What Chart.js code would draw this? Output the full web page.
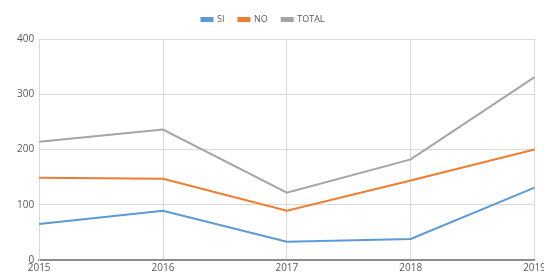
<!DOCTYPE html>
<html>
<head>
<meta charset="utf-8">
<script src="https://cdn.jsdelivr.net/npm/chart.js@4"></script>
<style>
  html, body { margin: 0; padding: 0; background: #fff; overflow: hidden; }
  #wrap { width: 548px; height: 276px; position: relative; }
</style>
</head>
<body>
<div id="wrap"><canvas id="chart1"></canvas></div>
<script>
// years on the x axis
const years = ["2015", "2016", "2017", "2018", "2019"];
// series
const siValues = [65, 89, 33, 38, 131];
const noValues = [149, 147, 89, 144, 200];
const totalValues = [214, 236, 122, 182, 331];
const yTicks = [0, 100, 200, 300, 400];

// nudge the legend a bit up and left, like the original sheet
const legendNudge = {
    id: "legendNudge",
    afterLayout: function (chart) {
        const lg = chart.legend;
        lg.left -= 17; lg.right -= 17;
        lg.top -= 5; lg.bottom -= 5;
    }
};

const ctx = document.getElementById("chart1").getContext("2d");
const lineChart = new Chart(ctx, {
    type: "line",
    data: {
        labels: years,
        datasets: [
            { label: "SI", data: siValues, borderColor: "#5B9BD5", backgroundColor: "#5B9BD5" },
            { label: "NO", data: noValues, borderColor: "#ED7D31", backgroundColor: "#ED7D31" },
            { label: "TOTAL", data: totalValues, borderColor: "#A5A5A5", backgroundColor: "#A5A5A5" }
        ]
    },
    options: {
        responsive: true,
        maintainAspectRatio: false,
        animation: false,
        elements: {
            line: { borderWidth: 2, tension: 0 },
            point: { radius: 0 }
        },
        layout: { padding: { top: 6, left: 12, right: 0, bottom: 0 } },
        scales: {
            x: {
                grid: { color: "#D9D9D9", lineWidth: 1, drawTicks: false },
                border: { color: "#8C8C8C", width: 2 },
                ticks: { color: "#595959", font: { family: "Open Sans", size: 10 }, padding: 2, maxRotation: 0, autoSkip: false }
            },
            y: {
                min: 0,
                max: 400,
                afterBuildTicks: function (axis) {
                    axis.ticks = yTicks.map(function (v) { return { value: v }; });
                },
                grid: { color: "#D9D9D9", lineWidth: 1, drawTicks: false },
                border: { color: "#D9D9D9", width: 1 },
                ticks: { color: "#595959", font: { family: "Open Sans", size: 10 }, padding: 5 }
            }
        },
        plugins: {
            legend: {
                labels: {
                    color: "#595959",
                    font: { family: "Open Sans", size: 9 },
                    boxWidth: 11,
                    boxHeight: 3,
                    padding: 14
                }
            },
            tooltip: { enabled: false }
        }
    },
    plugins: [legendNudge]
});
</script>
</body>
</html>
